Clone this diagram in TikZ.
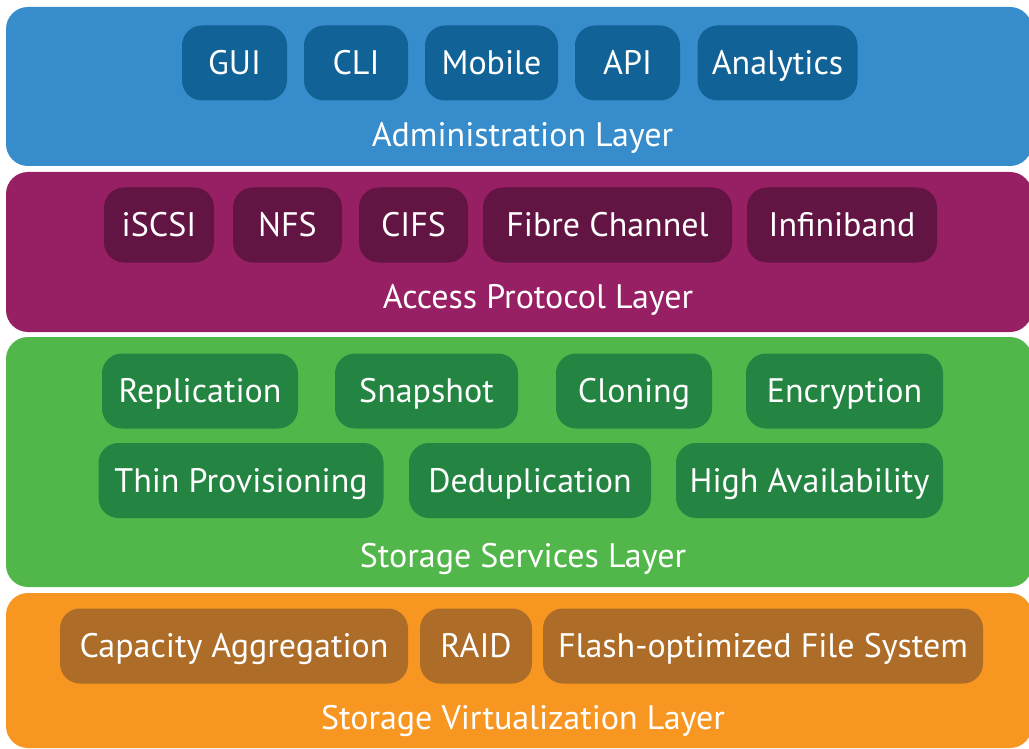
\documentclass[tikz,border=0pt]{standalone}
\usepackage{fontspec}
\setmainfont{PT Sans}
\usetikzlibrary{positioning}
\definecolor{adminblue}{RGB}{55,141,203}
\definecolor{admindark}{RGB}{17,98,150}
\definecolor{accesspurple}{RGB}{151,31,100}
\definecolor{accessdark}{RGB}{98,20,66}
\definecolor{servicegreen}{RGB}{82,183,75}
\definecolor{servicedark}{RGB}{36,132,66}
\definecolor{virtorange}{RGB}{247,151,33}
\definecolor{virtdark}{RGB}{173,109,40}

\begin{document}
\begin{tikzpicture}[x=0.5pt, y=-0.5pt,
    layer/.style={rounded corners=11pt, inner sep=0pt, minimum width=513pt},
    item/.style={rounded corners=10pt, inner sep=0pt, minimum height=37.5pt,
        text=white, font=\fontsize{17}{20}\selectfont, text height=11.9pt, text depth=0pt},
    title/.style={text=white, font=\fontsize{17}{20}\selectfont, text height=11.9pt, text depth=0pt}]
    \useasboundingbox (0,0) rectangle (1029,749);

    % Layers
    \node[layer, fill=adminblue, minimum height=79.5pt] (admin) at (519,86.5) {};
    \node[layer, fill=accesspurple, minimum height=80pt] (access) at (519,252) {};
    \node[layer, fill=servicegreen, minimum height=125pt] (services) at (519,462) {};
    \node[layer, fill=virtorange, minimum height=77.5pt] (virt) at (519,670.5) {};

    % Administration layer
    \node[item, fill=admindark, minimum width=52.5pt] (gui) at (234.5,63) {GUI};
    \node[item, fill=admindark, minimum width=52pt] (cli) at (356,63) {CLI};
    \node[item, fill=admindark, minimum width=66.5pt] (mobile) at (491.5,63) {Mobile};
    \node[item, fill=admindark, minimum width=52.5pt] (api) at (627.5,63) {API};
    \node[item, fill=admindark, minimum width=80pt] (analytics) at (777.5,63) {Analytics};
    \node[title] (admintitle) at (522.5,134.5) {Administration Layer};

    % Access protocol layer
    \node[item, fill=accessdark, minimum width=55pt] (iscsi) at (159,225) {iSCSI};
    \node[item, fill=accessdark, minimum width=54.5pt] (nfs) at (287.5,225) {NFS};
    \node[item, fill=accessdark, minimum width=54.5pt] (cifs) at (413.5,225) {CIFS};
    \node[item, fill=accessdark, minimum width=124.5pt] (fibre) at (607.5,225) {Fibre Channel};
    \node[item, fill=accessdark, minimum width=95pt] (infiniband) at (842,225) {Infiniband};
    \node[title] (accesstitle) at (538,297) {Access Protocol Layer};

    % Storage services layer
    \node[item, fill=servicedark, minimum width=98pt] (replication) at (200,391) {Replication};
    \node[item, fill=servicedark, minimum width=91.5pt] (snapshot) at (426.5,391) {Snapshot};
    \node[item, fill=servicedark, minimum width=78pt] (cloning) at (634,391) {Cloning};
    \node[item, fill=servicedark, minimum width=98.5pt] (encryption) at (844.5,391) {Encryption};
    \node[item, fill=servicedark, minimum width=142.5pt] (thin) at (241,480.5) {Thin Provisioning};
    \node[item, fill=servicedark, minimum width=121pt] (dedup) at (530,480.5) {Deduplication};
    \node[item, fill=servicedark, minimum width=133.5pt] (ha) at (809.5,480.5) {High Availability};
    \node[title] (servicestitle) at (523,556) {Storage Services Layer};

    % Storage virtualization layer
    \node[item, fill=virtdark, minimum width=174pt] (capacity) at (234,646) {Capacity Aggregation};
    \node[item, fill=virtdark, minimum width=56pt] (raid) at (476,646) {RAID};
    \node[item, fill=virtdark, minimum width=220pt] (flash) at (763,646) {Flash-optimized File System};
    \node[title] (virttitle) at (523,718) {Storage Virtualization Layer};
\end{tikzpicture}
\end{document}
